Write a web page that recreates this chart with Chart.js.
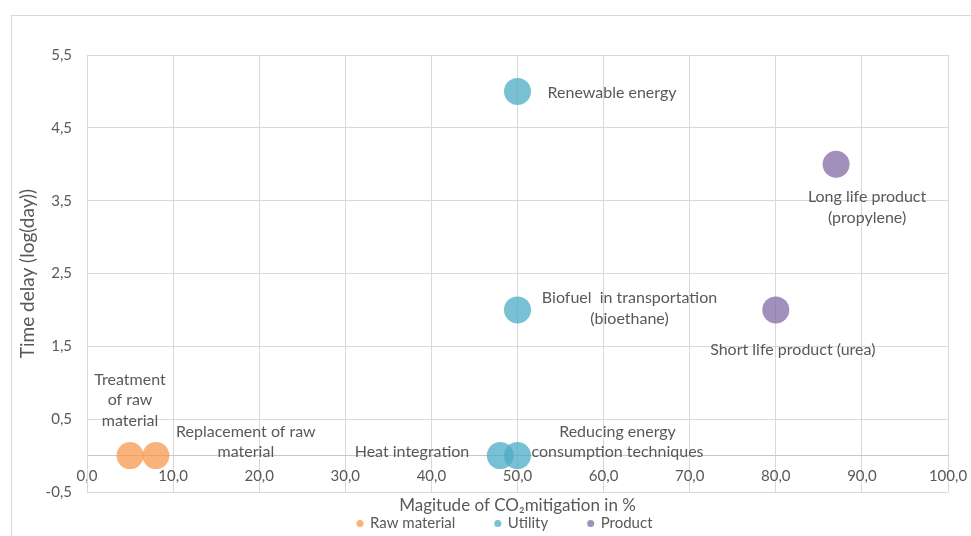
<!DOCTYPE html>
<html>
<head>
<meta charset="utf-8">
<title>CO2 mitigation vs time delay</title>
<script src="https://cdn.jsdelivr.net/npm/chart.js@4.4.1/dist/chart.umd.min.js"></script>
<style>
  html, body { margin: 0; padding: 0; background: #fff; overflow: hidden; }
  #frame { position: absolute; left: 11px; top: 15px; width: 1200px; height: 800px; border: 1px solid #d9d9d9; }
  #chart { position: absolute; left: 0; top: 0; }
</style>
</head>
<body>
<div id="frame"></div>
<canvas id="chart" width="971" height="536"></canvas>
<script>
// series (x = magnitude of CO2 mitigation in %, y = time delay in log(day))
const seriesNames = ['Raw material', 'Utility', 'Product'];

const rawX = [5, 8];
const rawY = [0, 0];
const rawText = ['Treatment\nof raw\nmaterial', 'Replacement of raw\nmaterial'];

const utilityX = [50, 50, 48, 50];
const utilityY = [5, 2, 0, 0];
const utilityText = ['Renewable energy', 'Biofuel  in transportation\n(bioethane)', 'Heat integration', 'Reducing energy\nconsumption techniques'];

const productX = [87, 80];
const productY = [4, 2];
const productText = ['Long life product\n(propylene)', 'Short life product (urea)'];

// where each data label sits relative to its bubble: [dx, dy, align]
const rawTextPos = [[0, -76, 'center'], [90, -24, 'center']];
const utilityTextPos = [[30, 1, 'left'], [112, -12, 'center'], [-31, -4, 'right'], [100, -24, 'center']];
const productTextPos = [[31, 33, 'center'], [17, 40, 'center']];

const colors = ['rgba(247,150,70,0.72)', 'rgba(75,172,198,0.75)', 'rgba(128,100,162,0.72)'];
const textColor = '#595959';
const gridColor = '#d9d9d9';
const fontFamily = 'Lato, "Open Sans", sans-serif';

const toPoints = (xs, ys) => xs.map((x, i) => ({ x, y: ys[i] }));
const fmt = v => Number(v).toFixed(1).replace('.', ',');

// data labels next to the bubbles
const bubbleLabels = {
  id: 'bubbleLabels',
  afterDatasetsDraw(chart) {
    const ctx = chart.ctx;
    const texts = [rawText, utilityText, productText];
    const pos = [rawTextPos, utilityTextPos, productTextPos];
    ctx.save();
    ctx.font = '16px ' + fontFamily;
    ctx.fillStyle = textColor;
    ctx.textBaseline = 'middle';
    chart.data.datasets.forEach((ds, i) => {
      chart.getDatasetMeta(i).data.forEach((pt, j) => {
        const [dx, dy, align] = pos[i][j];
        ctx.textAlign = align;
        texts[i][j].split('\n').forEach((line, k) => {
          ctx.fillText(line, pt.x + dx, pt.y + dy + k * 20.5);
        });
      });
    });
    ctx.restore();
  }
};

// legend sits higher and further right than Chart.js puts it
const legendNudge = {
  id: 'legendNudge',
  afterLayout(chart) {
    const lg = chart.legend;
    lg.top -= 16;
    lg.left += 31; lg.right += 31;
  }
};

new Chart(document.getElementById('chart'), {
  type: 'scatter',
  data: {
    datasets: [
      { label: seriesNames[0], data: toPoints(rawX, rawY), backgroundColor: colors[0] },
      { label: seriesNames[1], data: toPoints(utilityX, utilityY), backgroundColor: colors[1] },
      { label: seriesNames[2], data: toPoints(productX, productY), backgroundColor: colors[2] }
    ]
  },
  options: {
    responsive: false,
    animation: false,
    events: [],
    layout: { padding: { left: 0, top: 55, right: 23, bottom: 0 } },
    elements: { point: { radius: 13.5, hoverRadius: 13.5, borderWidth: 0 } },
    scales: {
      x: {
        type: 'linear',
        position: { y: 0 },
        min: 0, max: 100,
        afterFit: s => { s.height = 60; s.paddingLeft = 0; s.paddingRight = 0; },
        grid: { color: gridColor, drawTicks: false },
        border: { color: '#c8c8c8' },
        ticks: { stepSize: 10, padding: 12, color: textColor, font: { family: fontFamily, size: 15 }, callback: fmt, maxRotation: 0 },
        title: { display: true, text: 'Magitude of CO\u2082mitigation in %', color: textColor, font: { family: fontFamily, size: 17 }, padding: 0 }
      },
      y: {
        min: -0.5, max: 5.5,
        afterFit: s => { s.width = 87; },
        grid: { color: gridColor, drawTicks: false },
        border: { color: gridColor },
        ticks: { stepSize: 1, padding: 15, color: textColor, font: { family: fontFamily, size: 15 }, callback: fmt },
        title: { display: true, text: 'Time delay (log(day))', color: textColor, font: { family: fontFamily, size: 19 }, padding: { top: 16 } }
      }
    },
    plugins: {
      tooltip: { enabled: false },
      legend: {
        position: 'bottom',
        maxHeight: 44,
        labels: { usePointStyle: true, boxWidth: 5, boxHeight: 5, padding: 40, color: textColor, font: { family: fontFamily, size: 15 } }
      }
    }
  },
  plugins: [bubbleLabels, legendNudge]
});
</script>
</body>
</html>
